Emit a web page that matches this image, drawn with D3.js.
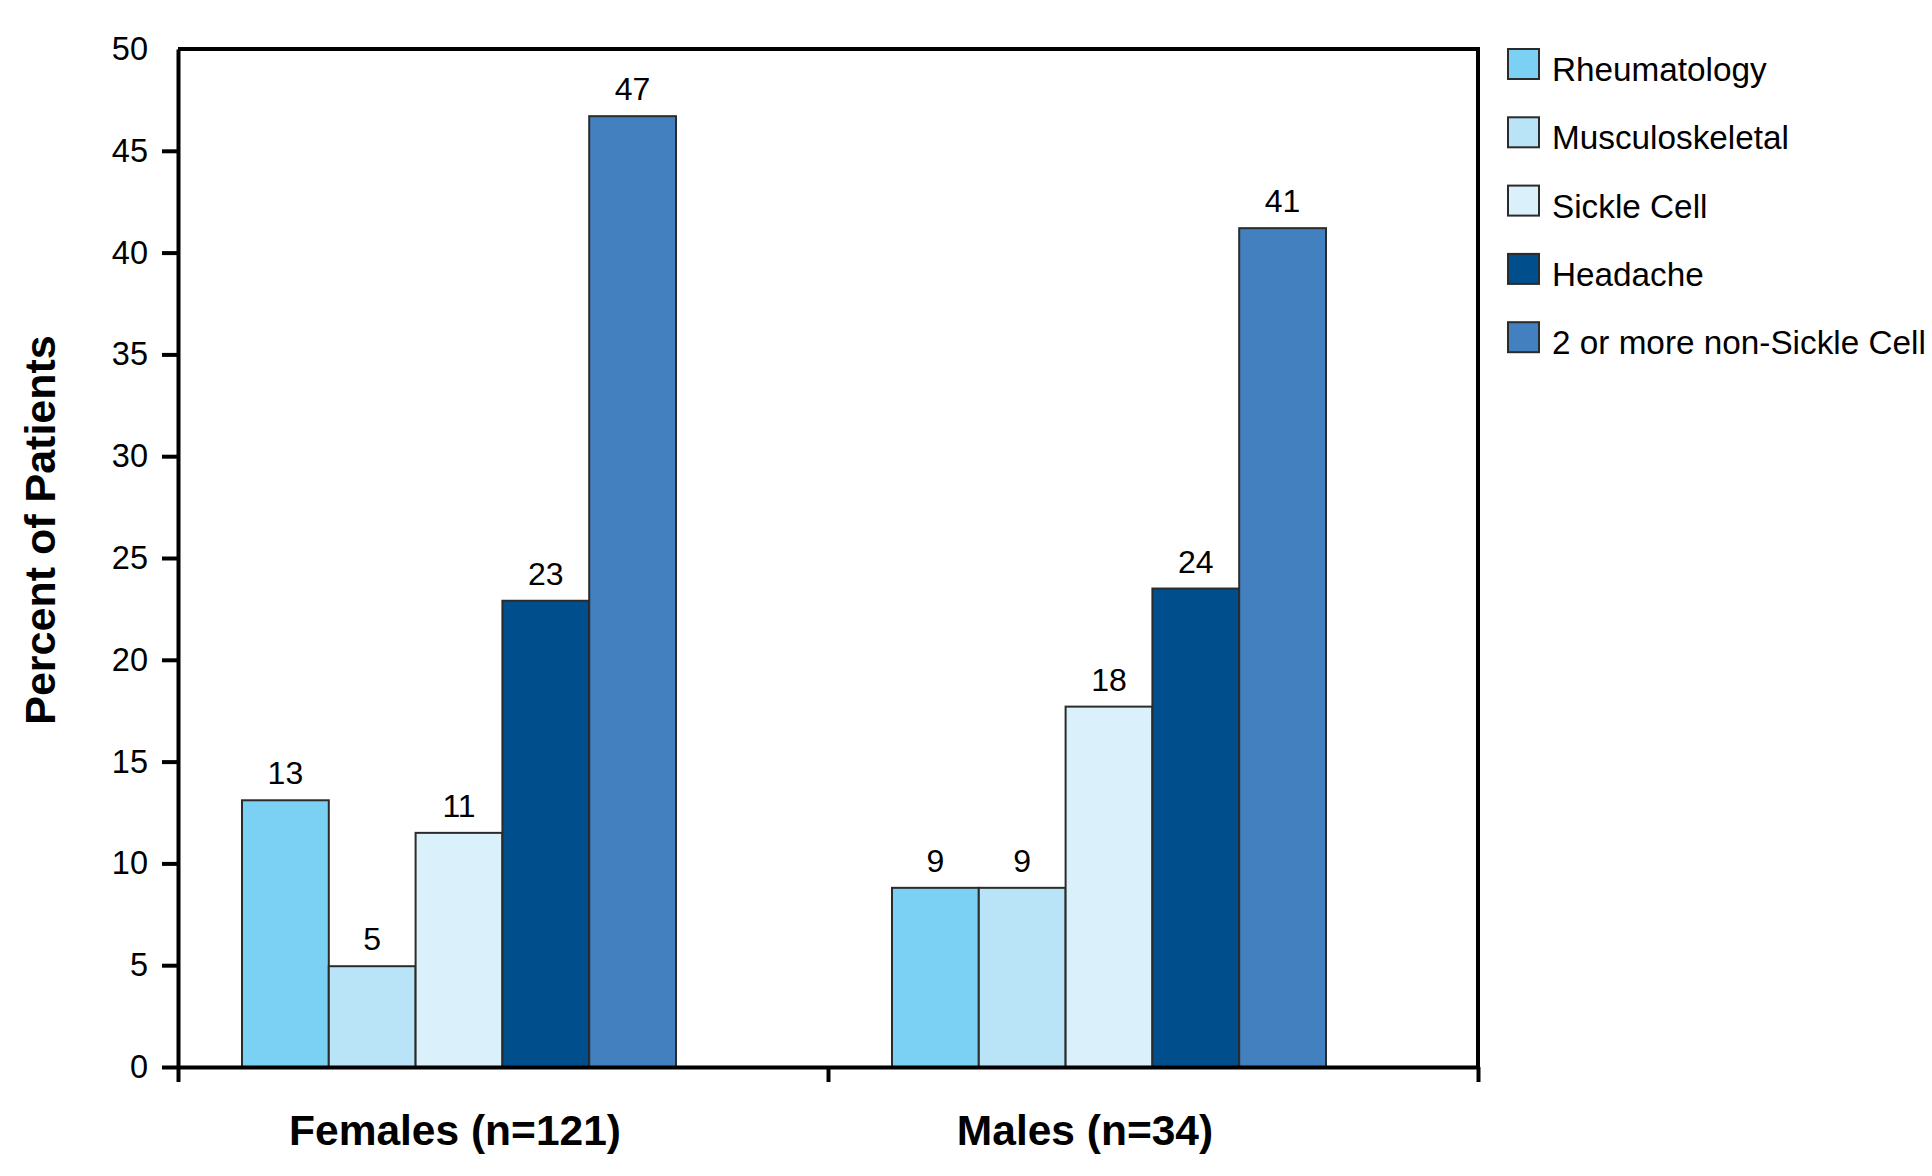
<!doctype html>
<html>
<head>
<meta charset="utf-8">
<title>Percent of Patients</title>
<script src="https://cdn.jsdelivr.net/npm/d3@7"></script>
<style>
body { margin:0; background:#fff; overflow:hidden; }
text { font-family: "Liberation Sans", Arial, Helvetica, sans-serif; fill:#000; }
</style>
</head>
<body>
<div id="chart-area"></div>
<script>
// Data
var groups = ["Females (n=121)", "Males (n=34)"];
var categories = ["Rheumatology", "Musculoskeletal", "Sickle Cell", "Headache", "2 or more non-Sickle Cell"];
var femaleValues = [13.1, 4.95, 11.5, 22.9, 46.7];
var maleValues = [8.8, 8.8, 17.7, 23.5, 41.2];
var femaleLabels = ["13", "5", "11", "23", "47"];
var maleLabels = ["9", "9", "18", "24", "41"];
var yTicks = [0, 5, 10, 15, 20, 25, 30, 35, 40, 45, 50];
var colors = ["#7AD1F4", "#B9E4F8", "#DAF0FA", "#004E8C", "#4380C0"];

var margin = { left:178, right:454, top:49, bottom:109 };
var width = 1932 - margin.left - margin.right,
    height = 1176 - margin.top - margin.bottom;

var svg = d3.select("#chart-area").append("svg")
    .attr("width", 1932).attr("height", 1176);
var g = svg.append("g")
    .attr("transform", "translate(" + margin.left + "," + margin.top + ")");

// Scales
var x0 = d3.scaleBand().domain(groups).range([0, width]);
var x1 = d3.scaleBand().domain(categories).range([64, 498]);
var y = d3.scaleLinear().domain([0, 50]).range([height, 0]);
var color = d3.scaleOrdinal().domain(categories).range(colors);

var rows = [
    { group: groups[0], values: femaleValues, labels: femaleLabels, dx: -4 },
    { group: groups[1], values: maleValues, labels: maleLabels, dx: -24 }
];

// Bars
rows.forEach(function(row){
    var gg = g.append("g").attr("transform", "translate(" + x0(row.group) + ",0)");
    gg.selectAll("rect").data(categories).enter().append("rect")
        .attr("x", function(c){ return x1(c); })
        .attr("width", x1.bandwidth())
        .attr("y", function(c, i){ return y(row.values[i]); })
        .attr("height", function(c, i){ return height - y(row.values[i]); })
        .attr("fill", function(c){ return color(c); })
        .attr("stroke", "#2b2b2b")
        .attr("stroke-width", 2);
    gg.selectAll("text.val").data(categories).enter().append("text")
        .attr("class", "val")
        .attr("x", function(c){ return x1(c) + x1.bandwidth() / 2; })
        .attr("y", function(c, i){ return y(row.values[i]) - 16; })
        .attr("text-anchor", "middle")
        .attr("font-size", "32px")
        .text(function(c, i){ return row.labels[i]; });
    g.append("text")
        .attr("x", x0(row.group) + (64 + 498) / 2 + row.dx)
        .attr("y", height + 78)
        .attr("text-anchor", "middle")
        .attr("font-size", "42.5px")
        .attr("font-weight", "bold")
        .text(row.group);
});

// Frame (top and right)
g.append("path")
    .attr("d", "M0,0H" + width + "V" + height)
    .attr("fill", "none").attr("stroke", "#000").attr("stroke-width", 4);

// Y Axis
var yAxis = g.append("g").attr("class", "y axis")
    .call(d3.axisLeft(y).tickValues(yTicks).tickSize(16).tickPadding(14).tickSizeOuter(0));
yAxis.selectAll("path, line").attr("stroke", "#000").attr("stroke-width", 4);
yAxis.selectAll("text").attr("font-size", "32.5px").attr("font-family", null);
yAxis.selectAll(".tick").filter(function(d){ return d === 50; }).select("line").remove();

// X Axis (group dividers only)
var xEdge = d3.scaleLinear().domain([0, groups.length]).range([0, width]);
var xAxis = g.append("g").attr("class", "x axis")
    .attr("transform", "translate(0," + height + ")")
    .call(d3.axisBottom(xEdge).tickValues(d3.range(groups.length + 1)).tickSize(15).tickSizeOuter(0).tickFormat(""));
xAxis.selectAll("path, line").attr("stroke", "#000").attr("stroke-width", 4);

// Y label
svg.append("text")
    .attr("transform", "translate(55,530) rotate(-90)")
    .attr("text-anchor", "middle")
    .attr("font-size", "43px")
    .attr("font-weight", "bold")
    .text("Percent of Patients");

// Legend
var legend = svg.append("g").attr("transform", "translate(1508,49)");
categories.forEach(function(c, i){
    var legendRow = legend.append("g").attr("transform", "translate(0," + (i * 68.3) + ")");
    legendRow.append("rect")
        .attr("width", 31).attr("height", 30)
        .attr("fill", color(c))
        .attr("stroke", "#2b2b2b").attr("stroke-width", 2);
    legendRow.append("text")
        .attr("x", 44).attr("y", 32)
        .attr("font-size", "33.3px")
        .text(c);
});
</script>
</body>
</html>
